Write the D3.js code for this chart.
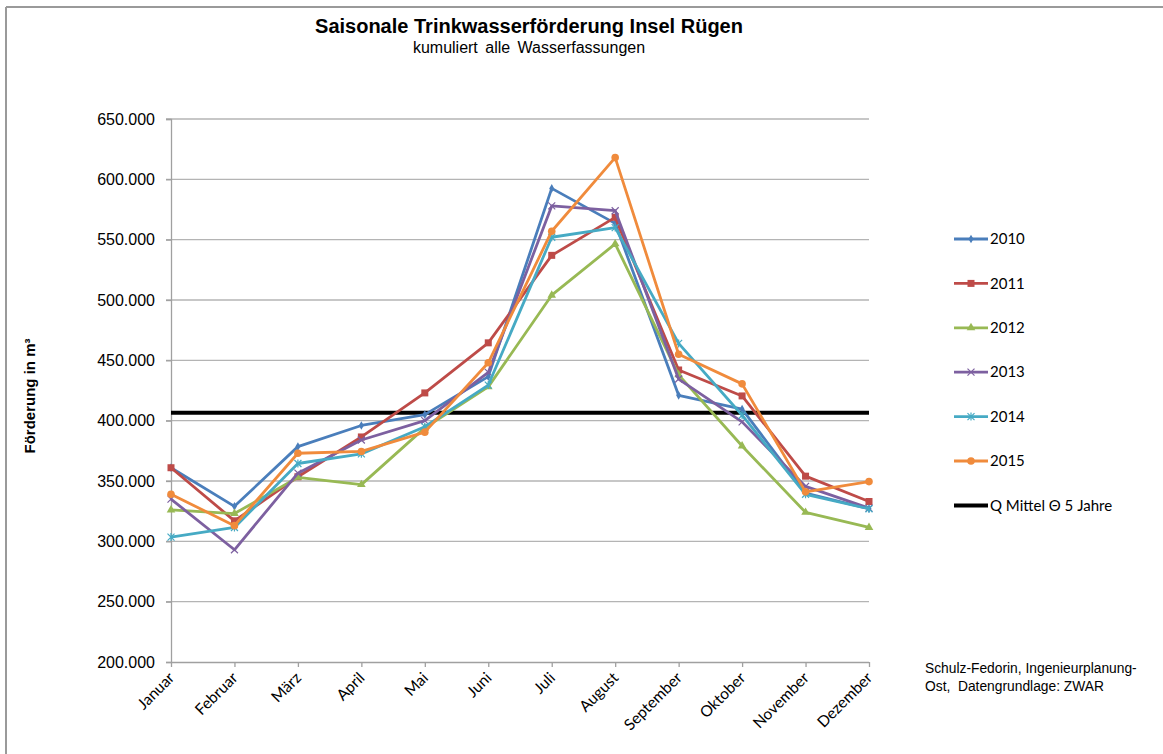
<!DOCTYPE html>
<html>
<head>
<meta charset="utf-8">
<script src="https://cdn.jsdelivr.net/npm/d3@7"></script>
<style>
  html, body { margin: 0; padding: 0; background: #fff; }
  svg { display: block; }
</style>
</head>
<body>
<svg id="chart" width="1163" height="754"></svg>
<script>
// Monthly water extraction, all wells combined (m³)
const months = ["Januar","Februar","März","April","Mai","Juni","Juli","August","September","Oktober","November","Dezember"];
const years = ["2010","2011","2012","2013","2014","2015"];
const v2010 = [361000, 329000, 378500, 396000, 405000, 436500, 592500, 563500, 421000, 409500, 340000, 327000];
const v2011 = [361000, 317000, 353500, 386500, 423000, 464500, 537000, 568500, 442000, 420500, 354000, 333000];
const v2012 = [326000, 323000, 353000, 347000, 394000, 428000, 504000, 546500, 438000, 379000, 324000, 311500];
const v2013 = [335000, 293000, 356500, 384000, 400000, 440000, 578000, 574000, 434500, 399000, 345500, 327500];
const v2014 = [303500, 311500, 364500, 372500, 395000, 429500, 552000, 560000, 464000, 404500, 339000, 327000];
const v2015 = [339000, 313000, 373000, 374500, 390500, 448000, 557000, 618000, 455000, 430500, 341000, 349500];
const meanValue = 406500;
const meanLabel = "Q Mittel \u0398 5 Jahre";
const yTicks = [200000, 250000, 300000, 350000, 400000, 450000, 500000, 550000, 600000, 650000];

const seriesValues = [v2010, v2011, v2012, v2013, v2014, v2015];
const colors = ["#4A7EBB", "#BE4B48", "#98B954", "#7D60A0", "#46AAC4", "#F08B3C"];
const markers = ["diamond", "square", "triangle", "x", "star", "circle"];

const svg = d3.select("#chart");

// outer frame (top and left edge)
svg.append("line").attr("x1", 6).attr("x2", 1163).attr("y1", 7).attr("y2", 7)
  .attr("stroke", "#9a9a9a").attr("stroke-width", 2);
svg.append("line").attr("x1", 6).attr("x2", 6).attr("y1", 7).attr("y2", 754)
  .attr("stroke", "#9a9a9a").attr("stroke-width", 2);

const x = d3.scalePoint().domain(months).range([171, 869]);
const y = d3.scaleLinear().domain([200000, 650000]).range([662, 119]);

const fmt = v => d3.format(",")(v).replace(/,/g, ".");

// horizontal gridlines
svg.append("g")
  .selectAll("line")
  .data(yTicks.slice(1))
  .join("line")
  .attr("x1", 166).attr("x2", 869)
  .attr("y1", d => y(d)).attr("y2", d => y(d))
  .attr("stroke", "#b4b4b4").attr("stroke-width", 1.3);

// y axis
const yAxis = svg.append("g")
  .attr("transform", "translate(171,0)")
  .call(d3.axisLeft(y).tickValues(yTicks).tickFormat(fmt).tickSize(5).tickPadding(11));
yAxis.select(".domain").attr("stroke", "#a0a0a0").attr("stroke-width", 1.3);
yAxis.selectAll(".tick line").attr("stroke", "#a0a0a0").attr("stroke-width", 1.3);
yAxis.selectAll("text")
  .attr("font-family", "Liberation Sans, Arial, sans-serif")
  .attr("font-size", 16).attr("fill", "#000");

// x axis
const xAxis = svg.append("g")
  .attr("transform", "translate(0,662)")
  .call(d3.axisBottom(x).tickSize(5).tickSizeOuter(0));
xAxis.select(".domain").attr("d", "M171,0.5H869").attr("stroke", "#a0a0a0").attr("stroke-width", 1.3);
xAxis.selectAll(".tick line").attr("stroke", "#a0a0a0").attr("stroke-width", 1.3);
xAxis.selectAll("text")
  .attr("font-family", "Lato, 'Open Sans', sans-serif")
  .attr("font-size", 15.5).attr("fill", "#000")
  .attr("text-anchor", "end")
  .attr("x", 0).attr("y", 0)
  .attr("dy", "0.35em")
  .attr("transform", "translate(0,13) rotate(-45)");

// mean line
svg.append("line")
  .attr("x1", x(months[0])).attr("x2", x(months[months.length - 1]))
  .attr("y1", y(meanValue)).attr("y2", y(meanValue))
  .attr("stroke", "#000").attr("stroke-width", 4);

const line = d3.line().x((d, i) => x(months[i])).y(d => y(d));

function drawMarker(g, type, color, cx, cy) {
  if (type === "diamond") {
    g.append("path").attr("d", d3.symbol(d3.symbolDiamond, 22)()).attr("transform", `translate(${cx},${cy})`).attr("fill", color);
  } else if (type === "square") {
    g.append("rect").attr("x", cx - 3.5).attr("y", cy - 3.5).attr("width", 7).attr("height", 7).attr("fill", color);
  } else if (type === "triangle") {
    g.append("path").attr("d", d3.symbol(d3.symbolTriangle, 32)()).attr("transform", `translate(${cx},${cy})`).attr("fill", color);
  } else if (type === "x") {
    g.append("path").attr("d", `M${cx-3.5},${cy-3.5}L${cx+3.5},${cy+3.5}M${cx-3.5},${cy+3.5}L${cx+3.5},${cy-3.5}`)
      .attr("stroke", color).attr("stroke-width", 1.2).attr("fill", "none");
  } else if (type === "star") {
    g.append("path").attr("d", `M${cx-3.5},${cy-3.5}L${cx+3.5},${cy+3.5}M${cx-3.5},${cy+3.5}L${cx+3.5},${cy-3.5}M${cx},${cy-4}L${cx},${cy+4}`)
      .attr("stroke", color).attr("stroke-width", 1.2).attr("fill", "none");
  } else if (type === "circle") {
    g.append("circle").attr("cx", cx).attr("cy", cy).attr("r", 3.8).attr("fill", color);
  }
}

// series lines and markers
seriesValues.forEach((vals, si) => {
  const g = svg.append("g");
  g.append("path")
    .datum(vals)
    .attr("d", line)
    .attr("fill", "none")
    .attr("stroke", colors[si])
    .attr("stroke-width", 2.8)
    .attr("stroke-linejoin", "round");
  vals.forEach((v, i) => drawMarker(g, markers[si], colors[si], x(months[i]), y(v)));
});

// legend
const legend = svg.append("g");
const legendItems = years.map((yr, i) => ({ label: yr, color: colors[i], marker: markers[i] }))
  .concat([{ label: meanLabel, color: "#000", marker: null }]);
legendItems.forEach((it, i) => {
  const ly = 239 + i * 44.4;
  legend.append("line").attr("x1", 954).attr("x2", 988).attr("y1", ly).attr("y2", ly)
    .attr("stroke", it.color).attr("stroke-width", it.marker ? 2.8 : 4);
  if (it.marker) drawMarker(legend, it.marker, it.color, 971, ly);
  legend.append("text").attr("x", 990).attr("y", ly).attr("dy", "0.35em")
    .attr("font-family", "Lato, 'Open Sans', sans-serif").attr("font-size", 15)
    .attr("fill", "#000").text(it.label);
});

// titles
svg.append("text").attr("x", 529).attr("y", 33).attr("text-anchor", "middle")
  .attr("font-family", "Liberation Sans, Arial, sans-serif").attr("font-weight", "bold")
  .attr("font-size", 20).attr("fill", "#000").text("Saisonale Trinkwasserförderung Insel Rügen");
svg.append("text").attr("x", 529).attr("y", 53).attr("text-anchor", "middle")
  .attr("font-family", "Liberation Sans, Arial, sans-serif")
  .attr("font-size", 16).attr("fill", "#000").attr("word-spacing", 3).text("kumuliert alle Wasserfassungen");

// y axis title
svg.append("text")
  .attr("transform", "translate(35,396) rotate(-90)")
  .attr("text-anchor", "middle")
  .attr("font-family", "Liberation Sans, Arial, sans-serif").attr("font-weight", "bold")
  .attr("font-size", 15).attr("fill", "#000")
  .text("Förderung in m³");

// source note
const note = svg.append("text")
  .attr("font-family", "Liberation Sans, Arial, sans-serif")
  .attr("font-size", 13.8).attr("fill", "#000");
note.append("tspan").attr("x", 925).attr("y", 673).text("Schulz-Fedorin, Ingenieurplanung-");
note.append("tspan").attr("x", 925).attr("y", 691).attr("xml:space", "preserve").text("Ost,  Datengrundlage: ZWAR");
</script>
</body>
</html>
